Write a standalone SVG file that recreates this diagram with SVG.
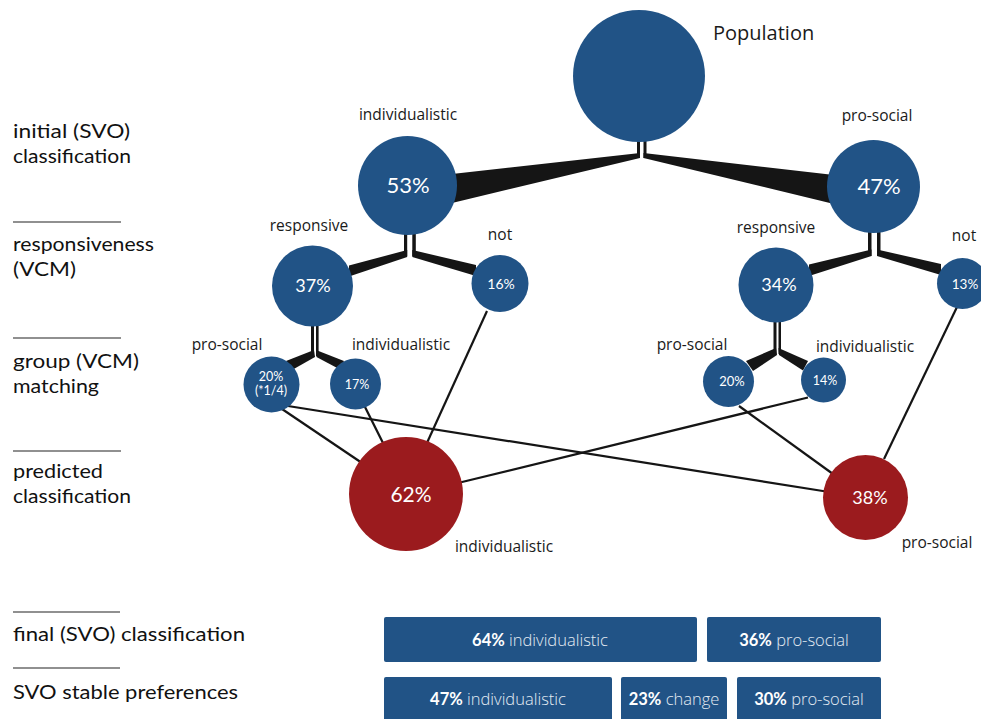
<svg xmlns="http://www.w3.org/2000/svg" width="981" height="719" viewBox="0 0 981 719">
<style>
.bg{fill:#ffffff}
.b{fill:#215386}
.r{fill:#9b1b1e}
.k{fill:#151515}
.ln{stroke:#151515;stroke-width:2.2;fill:none}
.sep{stroke:#222;stroke-width:1.2}
.hd{font-family:Lato,"Liberation Sans",sans-serif;font-size:19.5px;fill:#111}
.lb{font-family:"Open Sans","Noto Sans",sans-serif;font-size:15.5px;fill:#1a1a1a;text-anchor:middle}
.ct{font-family:Lato,"Liberation Sans",sans-serif;fill:#fff;text-anchor:middle}
.bt{font-family:"Open Sans","Noto Sans",sans-serif;font-weight:300;font-size:16.5px;fill:#e4ebf3;text-anchor:middle}
.bn{font-family:Lato,"Liberation Sans",sans-serif;font-weight:bold;fill:#fff}
</style>
<rect class="bg" x="0" y="0" width="981" height="719"/>

<g id="row-labels">
<line class="sep" x1="13" y1="222" x2="121" y2="222"/>
<line class="sep" x1="13" y1="338" x2="121" y2="338"/>
<line class="sep" x1="13" y1="451" x2="121" y2="451"/>
<line class="sep" x1="13" y1="612" x2="120" y2="612"/>
<line class="sep" x1="13" y1="668" x2="120" y2="668"/>
<text class="hd" x="13" y="138" textLength="117" lengthAdjust="spacingAndGlyphs">initial (SVO)</text>
<text class="hd" x="13" y="163" textLength="118" lengthAdjust="spacingAndGlyphs">classification</text>
<text class="hd" x="13" y="251" textLength="141" lengthAdjust="spacingAndGlyphs">responsiveness</text>
<text class="hd" x="13" y="276" textLength="63" lengthAdjust="spacingAndGlyphs">(VCM)</text>
<text class="hd" x="13" y="368" textLength="126" lengthAdjust="spacingAndGlyphs">group (VCM)</text>
<text class="hd" x="13" y="393" textLength="86" lengthAdjust="spacingAndGlyphs">matching</text>
<text class="hd" x="13" y="478" textLength="90" lengthAdjust="spacingAndGlyphs">predicted</text>
<text class="hd" x="13" y="503" textLength="118" lengthAdjust="spacingAndGlyphs">classification</text>
<text class="hd" x="13" y="641" textLength="232" lengthAdjust="spacingAndGlyphs">final (SVO) classification</text>
<text class="hd" x="13" y="699" textLength="225" lengthAdjust="spacingAndGlyphs">SVO stable preferences</text>
</g>

<g id="connectors">
<rect class="k" x="637" y="138" width="3" height="20"/>
<rect class="k" x="643.5" y="138" width="3" height="20"/>
<polygon class="k" points="640,153 640,158 452,203 452,174"/>
<polygon class="k" points="643.5,153 643.5,158 834,204 834,175"/>
<rect class="k" x="404" y="230" width="3.2" height="26"/>
<rect class="k" x="412.3" y="230" width="3.5" height="26"/>
<polygon class="k" points="407.2,250 407.2,257 349,276.5 349,265.5"/>
<polygon class="k" points="412.3,250 412.3,257 476,276 476,265"/>
<rect class="k" x="868" y="228" width="3.5" height="28"/>
<rect class="k" x="877" y="228" width="3.5" height="28"/>
<polygon class="k" points="871.5,249.5 871.5,256 809,276 809,264.5"/>
<polygon class="k" points="877,249.5 877,256 941,275 941,264"/>
<rect class="k" x="311" y="324" width="3" height="32"/>
<rect class="k" x="316" y="324" width="2.6" height="32"/>
<polygon class="k" points="314,350 315,357 292,370 286,361"/>
<polygon class="k" points="316,350 316.5,357 340,369.5 344,361"/>
<rect class="k" x="773.5" y="320" width="3" height="34"/>
<rect class="k" x="778.5" y="320" width="2.5" height="34"/>
<polygon class="k" points="776,348 777,355 753,371 746,361"/>
<polygon class="k" points="778.5,348 779,355 803,370.5 808,361"/>
<line class="ln" x1="282" y1="409" x2="362" y2="463"/>
<line class="ln" x1="288" y1="406" x2="826" y2="491.5"/>
<line class="ln" x1="364" y1="405" x2="384" y2="445"/>
<line class="ln" x1="487" y1="311" x2="426" y2="445"/>
<line class="ln" x1="808" y1="397.5" x2="460" y2="482.5"/>
<line class="ln" x1="739" y1="406" x2="833" y2="474"/>
<line class="ln" x1="957" y1="307" x2="884" y2="459"/>
</g>

<g id="n-population">
<circle class="b" cx="639" cy="76" r="66"/>
<text class="lb" x="713" y="40" style="font-size:20px;text-anchor:start">Population</text>
</g>

<g id="n-ind53">
<circle class="b" cx="407.5" cy="185.5" r="49.5"/>
<text class="ct" x="408" y="193" style="font-size:22px">53%</text>
<text class="lb" x="408" y="120">individualistic</text>
</g>

<g id="n-pro47">
<circle class="b" cx="873.5" cy="186.5" r="46.5"/>
<text class="ct" x="879" y="193.5" style="font-size:22px">47%</text>
<text class="lb" x="877" y="121">pro-social</text>
</g>

<g id="n-resp37">
<circle class="b" cx="312.5" cy="286" r="40.5"/>
<text class="ct" x="313" y="292" style="font-size:18px">37%</text>
<text class="lb" x="309" y="231">responsive</text>
</g>

<g id="n-not16">
<circle class="b" cx="500" cy="283.5" r="28.5"/>
<text class="ct" x="501" y="288.5" style="font-size:14px">16%</text>
<text class="lb" x="500" y="240">not</text>
</g>

<g id="n-resp34">
<circle class="b" cx="776" cy="285" r="37.5"/>
<text class="ct" x="779" y="291" style="font-size:18px">34%</text>
<text class="lb" x="776" y="233">responsive</text>
</g>

<g id="n-not13">
<circle class="b" cx="962.5" cy="283.5" r="25.5"/>
<text class="ct" x="965" y="288.5" style="font-size:13.5px">13%</text>
<text class="lb" x="964" y="241">not</text>
</g>

<g id="n-pro20a">
<circle class="b" cx="271.5" cy="384.5" r="28"/>
<text class="ct" x="271" y="381" style="font-size:12.5px">20%</text>
<text class="ct" x="271" y="395" style="font-size:12.5px">(*1/4)</text>
<text class="lb" x="227" y="350">pro-social</text>
</g>

<g id="n-ind17">
<circle class="b" cx="355.5" cy="384" r="25.5"/>
<text class="ct" x="357" y="388.5" style="font-size:12.5px">17%</text>
<text class="lb" x="401" y="350">individualistic</text>
</g>

<g id="n-pro20b">
<circle class="b" cx="728.5" cy="381.5" r="25.5"/>
<text class="ct" x="732" y="386" style="font-size:13px">20%</text>
<text class="lb" x="692" y="350">pro-social</text>
</g>

<g id="n-ind14">
<circle class="b" cx="823.5" cy="380" r="22.5"/>
<text class="ct" x="825" y="384.5" style="font-size:12.5px">14%</text>
<text class="lb" x="865" y="352">individualistic</text>
</g>

<g id="n-pred62">
<circle class="r" cx="406" cy="494" r="57"/>
<text class="ct" x="411" y="501.5" style="font-size:21px">62%</text>
<text class="lb" x="504" y="552">individualistic</text>
</g>

<g id="n-pred38">
<circle class="r" cx="865.5" cy="497.5" r="42.5"/>
<text class="ct" x="870" y="504" style="font-size:18px">38%</text>
<text class="lb" x="937" y="548">pro-social</text>
</g>

<g id="final-bars">
<rect class="b" x="384" y="617" width="313" height="45" rx="2"/>
<rect class="b" x="707" y="617" width="174" height="45" rx="2"/>
<text class="bt" x="540" y="645.5"><tspan class="bn">64%</tspan> individualistic</text>
<text class="bt" x="794" y="645.5"><tspan class="bn">36%</tspan> pro-social</text>
</g>

<g id="stable-bars">
<rect class="b" x="384" y="677" width="228" height="46" rx="2"/>
<rect class="b" x="621" y="677" width="106" height="46" rx="2"/>
<rect class="b" x="737" y="677" width="144" height="46" rx="2"/>
<text class="bt" x="498" y="705"><tspan class="bn">47%</tspan> individualistic</text>
<text class="bt" x="674" y="705"><tspan class="bn">23%</tspan> change</text>
<text class="bt" x="809" y="705"><tspan class="bn">30%</tspan> pro-social</text>
</g>
</svg>
